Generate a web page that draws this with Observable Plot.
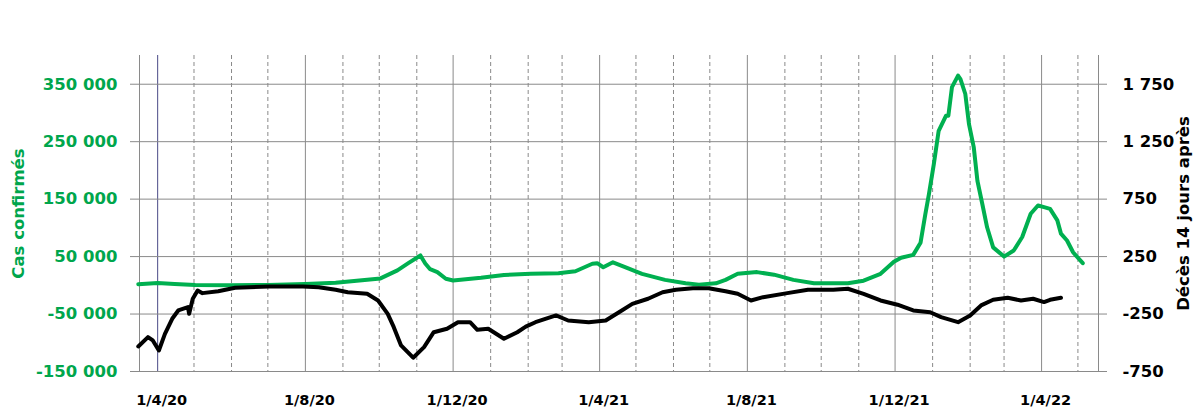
<!DOCTYPE html>
<html><head><meta charset="utf-8">
<script src="https://cdn.jsdelivr.net/npm/d3@7"></script>
<script src="https://cdn.jsdelivr.net/npm/@observablehq/plot@0.6"></script>
<style>body{margin:0;background:#fff} #chart svg{display:block}</style>
</head><body><div id="chart"></div>
<script>
// Cases (left axis)
const casesDates = ["2020-03-16","2020-04-01","2020-04-15","2020-05-02","2020-05-31","2020-07-01","2020-08-01","2020-08-26","2020-10-02","2020-10-16","2020-10-25","2020-11-04","2020-11-08","2020-11-12","2020-11-18","2020-11-25","2020-12-01","2020-12-24","2021-01-12","2021-02-03","2021-02-26","2021-03-12","2021-03-26","2021-03-30","2021-04-04","2021-04-12","2021-04-22","2021-05-06","2021-05-25","2021-06-11","2021-06-22","2021-07-06","2021-07-14","2021-07-24","2021-08-09","2021-08-23","2021-09-08","2021-09-25","2021-10-23","2021-11-05","2021-11-19","2021-11-30","2021-12-06","2021-12-16","2021-12-22","2021-12-26","2021-12-29","2022-01-02","2022-01-06","2022-01-12","2022-01-14","2022-01-17","2022-01-22","2022-01-24","2022-01-28","2022-01-31","2022-02-04","2022-02-07","2022-02-11","2022-02-15","2022-02-20","2022-03-01","2022-03-09","2022-03-16","2022-03-23","2022-03-29","2022-04-03","2022-04-08","2022-04-14","2022-04-17","2022-04-22","2022-04-27","2022-05-05"];
const casesValues = [2000,4000,2500,600,300,700,2500,4500,12000,26000,38500,52000,38000,28000,23000,11500,8500,13000,18000,20000,21000,24500,37500,38500,31500,40000,31500,20000,9500,3500,1200,3500,9500,20000,23000,18500,9500,3500,3500,8000,20000,41000,48000,53000,74000,124000,159000,211000,269000,295000,295000,345000,365000,359000,333000,281000,240000,182000,142000,101000,66000,50000,60500,84000,124500,139000,136000,133000,113000,90000,78000,57500,38500];

// Deaths 14 days later (right axis, drawn as shown: negative)
const deathDates = ["2020-03-16","2020-03-24","2020-03-28","2020-04-02","2020-04-07","2020-04-13","2020-04-18","2020-04-26","2020-04-27","2020-04-30","2020-05-04","2020-05-08","2020-05-21","2020-06-04","2020-07-02","2020-07-30","2020-08-12","2020-08-26","2020-09-05","2020-09-21","2020-09-30","2020-10-08","2020-10-13","2020-10-19","2020-10-29","2020-11-07","2020-11-15","2020-11-26","2020-12-05","2020-12-15","2020-12-21","2020-12-30","2021-01-12","2021-01-23","2021-01-30","2021-02-07","2021-02-24","2021-03-06","2021-03-23","2021-04-06","2021-04-17","2021-04-28","2021-05-11","2021-05-23","2021-06-03","2021-06-17","2021-06-30","2021-07-14","2021-07-24","2021-08-04","2021-08-14","2021-09-03","2021-09-20","2021-10-11","2021-10-23","2021-11-05","2021-11-19","2021-12-03","2021-12-16","2021-12-30","2022-01-08","2022-01-22","2022-02-01","2022-02-10","2022-02-20","2022-03-04","2022-03-15","2022-03-25","2022-04-03","2022-04-08","2022-04-17"];
const deathValues = [-532,-451,-480,-567,-422,-291,-219,-190,-248,-117,-45,-68,-51,-21,-10,-10,-16,-39,-60,-74,-132,-248,-364,-523,-630,-538,-408,-378,-321,-321,-387,-378,-465,-408,-360,-321,-262,-306,-321,-306,-234,-161,-117,-60,-39,-25,-25,-51,-74,-132,-103,-68,-39,-39,-30,-74,-132,-169,-219,-234,-277,-321,-262,-175,-126,-108,-132,-117,-146,-126,-108];

const leftTicks = [-150000,-50000,50000,150000,250000,350000];
const rightTicks = [-750,-250,250,750,1250,1750];
const xTickDates = ["2020-04-01","2020-08-01","2020-12-01","2021-04-01","2021-08-01","2021-12-01","2022-04-01"];
const xTickLabels = ["1/4/20","1/8/20","1/12/20","1/4/21","1/8/21","1/12/21","1/4/22"];
const xDomain = ["2020-03-17","2022-05-18"];
const yDomain = [-150000,400000];
const ratio = 200; // 1 death on the right axis = 200 cases on the left axis

const parse = d3.utcParse("%Y-%m-%d");
const cases = casesDates.map((d,i)=>({date: parse(d), value: casesValues[i]}));
const deaths = deathDates.map((d,i)=>({date: parse(d), value: deathValues[i]*ratio}));
const majors = xTickDates.map(parse);
const majorSet = new Set(xTickDates);
const months = d3.utcMonths(parse(xDomain[0]), parse(xDomain[1])).filter(d => !majorSet.has(d3.utcFormat("%Y-%m-%d")(d)));
const fmt = v => (v<0?"-":"") + String(Math.abs(v)).replace(/\B(?=(\d{3})+(?!\d))/g, " ");

const GREEN = "#00B050", GREEN_TXT = "#00A64C", GRID = "#8a8a8a";

const chart = Plot.plot({
  width: 1197, height: 420,
  marginTop: 55, marginBottom: 49, marginLeft: 139, marginRight: 99,
  x: {type: "utc", domain: xDomain.map(parse), axis: null},
  y: {domain: yDomain, axis: null},
  style: {fontFamily: "DejaVu Sans", background: "#fff"},
  marks: [
    Plot.ruleX(months, {x: d=>d, stroke: GRID, strokeDasharray: "4,3"}),
    Plot.ruleX(majors.slice(1), {x: d=>d, stroke: GRID}),
    Plot.ruleX(majors.slice(0,1), {x: d=>d, stroke: "#4a4a86"}),
    Plot.ruleX(xDomain.map(parse), {x: d=>d, stroke: GRID}),
    Plot.ruleY(leftTicks, {y: d=>d, stroke: GRID, insetLeft: -9, insetRight: -9}),
    Plot.line(cases, {x: "date", y: "value", stroke: GREEN, strokeWidth: 4, curve: "linear"}),
    Plot.line(deaths, {x: "date", y: "value", stroke: "#000", strokeWidth: 4, curve: "linear"}),
    Plot.text(leftTicks, {y: d=>d, frameAnchor: "left", dx: -22, textAnchor: "end", text: fmt, fill: GREEN_TXT, fontWeight: "bold", fontSize: 16.5}),
    Plot.text(rightTicks, {y: d=>d*ratio, frameAnchor: "right", dx: 24, textAnchor: "start", text: fmt, fill: "#000", fontWeight: "bold", fontSize: 16.5}),
    Plot.text(majors, {x: d=>d, frameAnchor: "bottom", dy: 33, dx: 4, text: (d,i)=>xTickLabels[i], fill: "#000", fontWeight: "bold", fontSize: 14.5}),
    Plot.text(["Cas confirmés"], {frameAnchor: "left", dx: -121, rotate: -90, textAnchor: "middle", text: d=>d, fill: GREEN_TXT, fontWeight: "bold", fontSize: 16.5}),
    Plot.text(["Décès 14 jours après"], {frameAnchor: "right", dx: 85, rotate: -90, textAnchor: "middle", text: d=>d, fill: "#000", fontWeight: "bold", fontSize: 16.5})
  ]
});
document.getElementById("chart").appendChild(chart);
</script>
</body></html>
